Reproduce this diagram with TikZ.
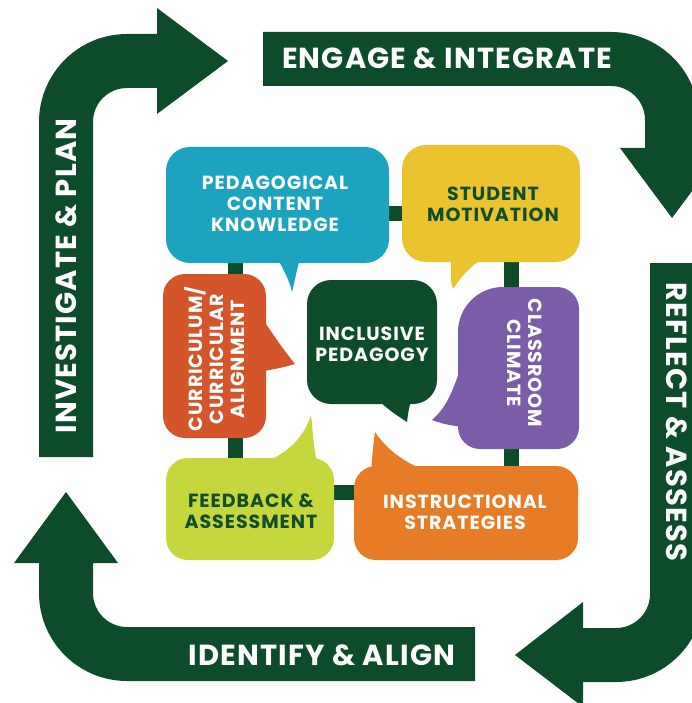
\documentclass[tikz,border=0pt]{standalone}
\usepackage{fontspec}
\setmainfont{Poppins}
\definecolor{dkgreen}{HTML}{0D4C2A}
\definecolor{txtgreen}{HTML}{104E2B}
\definecolor{cteal}{HTML}{1BA3BF}
\definecolor{cyellow}{HTML}{EBC32F}
\definecolor{crust}{HTML}{D5552B}
\definecolor{cpurple}{HTML}{7B5CA8}
\definecolor{clime}{HTML}{C5D73C}
\definecolor{corange}{HTML}{E87B25}
\newcommand\bandfont{\fontsize{29}{32}\selectfont\bfseries\addfontfeature{LetterSpace=4}}
\newcommand\bubfont{\fontsize{19}{21}\selectfont\bfseries\addfontfeature{LetterSpace=5}}
\tikzset{
  band/.style={fill=dkgreen},
  bandlabel/.style={text=white, font=\bandfont, inner sep=0pt},
  bubtext/.style={align=center, font=\bubfont, inner sep=0pt},
  link/.style={draw=dkgreen, line width=15pt},
}
\begin{document}
\begin{tikzpicture}[x=1pt,y=-1pt]
\useasboundingbox (0,0) rectangle (692,703);
\clip (0,0) rectangle (692,703);

% ---- cycle of four bent arrows ----
% investigate & plan (up, then right)
\fill[band] (39,457) -- (39,122) arc[start angle=180, end angle=270, radius=88]
  -- (157,34) -- (157,8) -- (228,61) -- (157,114) -- (157,88) -- (127,88)
  arc[start angle=270, end angle=180, radius=34] -- (93,457) -- cycle;
% engage & integrate (right, then down)
\fill[band] (263,32) -- (611,32) arc[start angle=270, end angle=360, radius=88]
  -- (699,148) -- (724,148) -- (672,218) -- (620,148) -- (645,148) -- (645,120)
  arc[start angle=0, end angle=-90, radius=34] -- (263,86) -- cycle;
% reflect & assess (down, then left)
\fill[band] (650,263) -- (650,594) arc[start angle=0, end angle=90, radius=34]
  -- (583,628) -- (583,602) -- (515,655) -- (583,707) -- (583,682) -- (616,682)
  arc[start angle=90, end angle=0, radius=88] -- (704,263) -- cycle;
% identify & align (left, then up)
\fill[band] (475,627) -- (127,627) arc[start angle=90, end angle=180, radius=34]
  -- (93,563) -- (118,563) -- (66,492) -- (14,563) -- (39,563) -- (39,593)
  arc[start angle=180, end angle=90, radius=88] -- (475,681) -- cycle;

\node[bandlabel] (eng) at (447,58) {ENGAGE \& INTEGRATE};
\node[bandlabel, rotate=90] (inv) at (66,276) {INVESTIGATE \& PLAN};
\node[bandlabel, rotate=-90] (ref) at (677,422) {REFLECT \& ASSESS};
\node[bandlabel] (ide) at (322,655) {IDENTIFY \& ALIGN};

% ---- connector loop behind the bubbles ----
\coordinate (pckhub) at (235,214);
\coordinate (smhub) at (511,214);
\coordinate (inshub) at (511,492);
\coordinate (fbhub) at (235,492);
\draw[link] (pckhub) -- (smhub);
\draw[link] (smhub) -- (inshub);
\draw[link] (inshub) -- (fbhub);
\draw[link] (fbhub) -- (pckhub);

% ---- speech bubbles ----
% pedagogical content knowledge
\fill[cteal, rounded corners=24pt] (166,147) rectangle (389,263);
\fill[cteal] (276,255) .. controls (282,268) and (289,278) .. (292,292)
  .. controls (295,280) and (297,268) .. (301,255) -- cycle;
% student motivation
\fill[cyellow, rounded corners=24pt] (402,145) rectangle (580,262);
\fill[cyellow] (451,255) -- (451,276) .. controls (451,282) .. (453,289)
  .. controls (462,276) and (470,266) .. (484,258) -- cycle;
% curriculum alignment
\fill[crust, rounded corners=22pt] (163,274) rectangle (266,438);
\fill[crust] (258,312) .. controls (270,330) and (282,348) .. (295,364)
  .. controls (285,367) and (276,369) .. (258,372) -- cycle;
% inclusive pedagogy
\fill[dkgreen, rounded corners=24pt] (307,280) rectangle (437,404);
\fill[dkgreen] (376,398) .. controls (388,410) and (398,416) .. (407,422)
  .. controls (408,414) and (409,406) .. (412,398) -- cycle;
% classroom climate
\fill[cpurple] (458,332) arc[start angle=180, end angle=270, radius=45]
  -- (557,287) arc[start angle=270, end angle=360, radius=22]
  -- (579,427) arc[start angle=0, end angle=90, radius=22]
  -- (480,449) arc[start angle=90, end angle=180, radius=22] -- cycle;
\fill[cpurple] (462,362) .. controls (454,390) and (446,408) .. (432,420)
  .. controls (445,425) and (458,427) .. (472,427) -- cycle;
% feedback & assessment
\fill[clime, rounded corners=22pt] (166,458) rectangle (334,560);
\fill[clime] (255,466) .. controls (285,456) and (303,440) .. (311,415)
  .. controls (313,430) and (313,448) .. (318,466) -- cycle;
% instructional strategies
\fill[corange, rounded corners=22pt] (354,466) rectangle (578,560);
\fill[corange] (371,474) .. controls (372,460) and (373,445) .. (375,432)
  .. controls (386,448) and (400,460) .. (424,470) -- cycle;

% ---- bubble labels ----
\node[bubtext, text=white] (pck) at (275,204) {PEDAGOGICAL\\CONTENT\\KNOWLEDGE};
\node[bubtext, text=txtgreen] (sm) at (493,204) {STUDENT\\MOTIVATION};
\node[bubtext, text=white, rotate=90] (cur) at (215,359) {CURRICULUM/\\CURRICULAR\\ALIGNMENT};
\node[bubtext, text=white] (inc) at (372,344) {INCLUSIVE\\PEDAGOGY};
\node[bubtext, text=white, rotate=-90] (cla) at (525,363) {CLASSROOM\\CLIMATE};
\node[bubtext, text=txtgreen] (fb) at (251,511) {FEEDBACK \&\\ASSESSMENT};
\node[bubtext, text=white] (ins) at (465,512) {INSTRUCTIONAL\\STRATEGIES};
\end{tikzpicture}
\end{document}
